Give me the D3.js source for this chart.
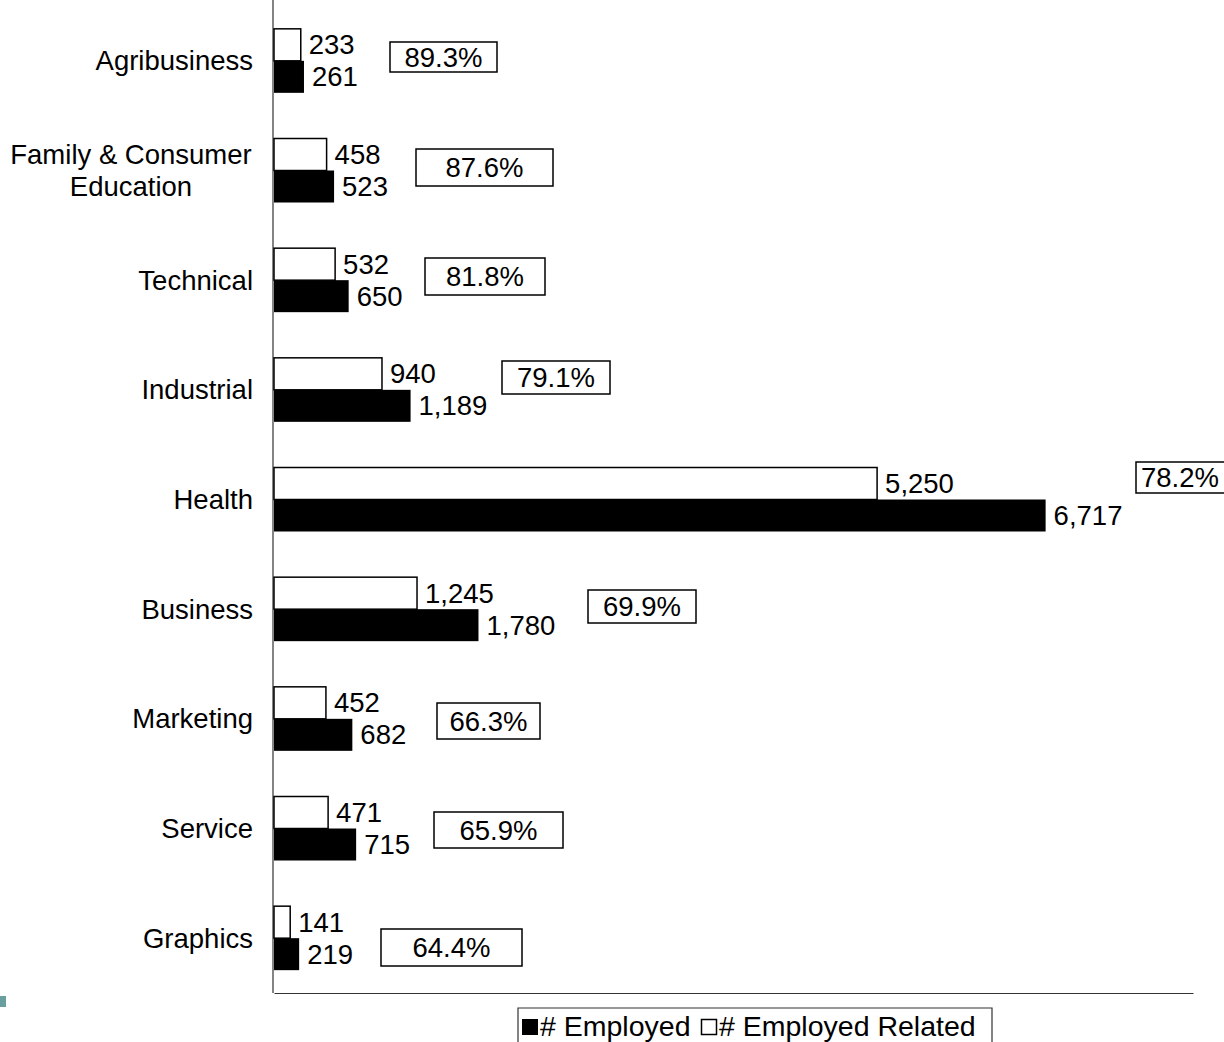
<!DOCTYPE html>
<html>
<head>
<meta charset="utf-8">
<script src="https://cdn.jsdelivr.net/npm/d3@7"></script>
<style>
  html, body { margin: 0; padding: 0; background: #fff; }
  svg { display: block; font-family: "Liberation Sans", Arial, sans-serif; }
</style>
</head>
<body>
<svg width="1224" height="1042"></svg>
<script>
// chart values
const categories = ["Agribusiness", "Family & Consumer\nEducation", "Technical", "Industrial",
  "Health", "Business", "Marketing", "Service", "Graphics"];
const employed = [261, 523, 650, 1189, 6717, 1780, 682, 715, 219];
const employedRelated = [233, 458, 532, 940, 5250, 1245, 452, 471, 141];
const pctLabels = ["89.3%", "87.6%", "81.8%", "79.1%", "78.2%", "69.9%", "66.3%", "65.9%", "64.4%"];
const seriesNames = ["# Employed", "# Employed Related"];

// the % boxes were hand placed in the original, so keep their layout apart
const boxLeft = [390, 416, 425, 502, 1136, 588, 437, 434, 381];
const boxWidth = [107, 137, 120, 108, 100, 108, 103, 129, 141];
const boxTop = [42, 149, 258, 361, 462, 590, 703, 812, 929];
const boxHeight = [30, 37, 37, 33, 31, 33, 36, 36, 37];

const svg = d3.select("svg");
const fontSize = 27.5;
const plotLeft = 274, plotRight = 1193, plotTop = 6, plotBottom = 993;

const x = d3.scaleLinear()
  .domain([0, 8000])
  .range([plotLeft, plotRight]);

const y = d3.scalePoint()
  .domain(categories)
  .range([plotTop, plotBottom])
  .padding(0.5);

const barH = 32;

// axes (lines only)
svg.append("g")
  .attr("transform", `translate(0,${plotBottom})`)
  .call(d3.axisBottom(x).ticks(0).tickSizeOuter(0))
  .call(g => g.select(".domain").attr("stroke", "#333").attr("stroke-width", 1.2));

svg.append("line")
  .attr("x1", plotLeft - 1).attr("x2", plotLeft - 1)
  .attr("y1", 0).attr("y2", plotBottom)
  .attr("stroke", "#333").attr("stroke-width", 1.2);

// category labels
const cat = svg.append("g").selectAll("text")
  .data(categories)
  .enter().append("text")
  .attr("font-size", fontSize)
  .attr("fill", "#000")
  .attr("text-anchor", d => d.includes("\n") ? "middle" : "end")
  .attr("x", d => d.includes("\n") ? 131 : 253)
  .attr("y", d => y(d));

cat.each(function(d) {
  const lines = d.split("\n");
  const t = d3.select(this);
  lines.forEach((ln, i) => {
    t.append("tspan")
      .attr("x", t.attr("x"))
      .attr("dy", i === 0 ? (0.35 - (lines.length - 1) * 0.57) + "em" : "1.14em")
      .text(ln);
  });
});

// bars
const rows = categories.map((c, i) => ({ c, e: employed[i], r: employedRelated[i], i }));

svg.append("g").selectAll("rect")
  .data(rows)
  .enter().append("rect")
  .attr("x", x(0))
  .attr("y", d => y(d.c) - barH)
  .attr("width", d => x(d.r) - x(0))
  .attr("height", barH)
  .attr("fill", "#fff")
  .attr("stroke", "#000")
  .attr("stroke-width", 1.5);

svg.append("g").selectAll("rect")
  .data(rows)
  .enter().append("rect")
  .attr("x", x(0))
  .attr("y", d => y(d.c))
  .attr("width", d => x(d.e) - x(0))
  .attr("height", barH)
  .attr("fill", "#000");

const fmt = d3.format(",");

svg.append("g").selectAll("text")
  .data(rows)
  .enter().append("text")
  .attr("x", d => x(d.r) + 8)
  .attr("y", d => y(d.c) - barH / 2)
  .attr("dy", "0.35em")
  .attr("font-size", fontSize)
  .text(d => fmt(d.r));

svg.append("g").selectAll("text")
  .data(rows)
  .enter().append("text")
  .attr("x", d => x(d.e) + 8)
  .attr("y", d => y(d.c) + barH / 2)
  .attr("dy", "0.35em")
  .attr("font-size", fontSize)
  .text(d => fmt(d.e));

// percentage boxes
const box = svg.append("g").selectAll("g")
  .data(pctLabels)
  .enter().append("g");

box.append("rect")
  .attr("x", (d, i) => boxLeft[i])
  .attr("y", (d, i) => boxTop[i])
  .attr("width", (d, i) => boxWidth[i])
  .attr("height", (d, i) => boxHeight[i])
  .attr("fill", "#fff")
  .attr("stroke", "#000")
  .attr("stroke-width", 1.5);

box.append("text")
  .attr("x", (d, i) => i === 4 ? boxLeft[i] + 5 : boxLeft[i] + boxWidth[i] / 2)
  .attr("y", (d, i) => boxTop[i] + boxHeight[i] / 2)
  .attr("dy", "0.35em")
  .attr("text-anchor", (d, i) => i === 4 ? "start" : "middle")
  .attr("font-size", fontSize)
  .text(d => d);

// legend
const legendSize = 28.5;
const lg = svg.append("g");
lg.append("path")
  .attr("d", "M518,1042 V1008 H992 V1042")
  .attr("fill", "none")
  .attr("stroke", "#333")
  .attr("stroke-width", 1.2);

lg.append("rect").attr("x", 522).attr("y", 1019).attr("width", 16).attr("height", 16).attr("fill", "#000");
lg.append("text").attr("x", 540).attr("y", 1036).attr("font-size", legendSize).text(seriesNames[0]);
lg.append("rect").attr("x", 701.5).attr("y", 1019.5).attr("width", 15).attr("height", 15)
  .attr("fill", "#fff").attr("stroke", "#000").attr("stroke-width", 1.5);
lg.append("text").attr("x", 719).attr("y", 1036).attr("font-size", legendSize).text(seriesNames[1]);

// small teal mark at the left edge
svg.append("rect").attr("x", 0).attr("y", 996).attr("width", 6).attr("height", 11).attr("fill", "#6a9fa0");
</script>
</body>
</html>
